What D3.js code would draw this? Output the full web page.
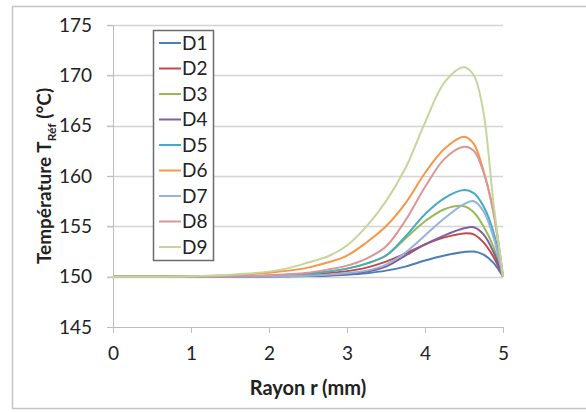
<!DOCTYPE html>
<html>
<head>
<meta charset="utf-8">
<script src="https://cdn.jsdelivr.net/npm/d3@7"></script>
<style>
  html, body { margin: 0; padding: 0; background: #fff; }
  svg { display: block; font-family: Lato, 'Open Sans', sans-serif; }
</style>
</head>
<body>
<svg id="chart"></svg>
<script>
// rayon r (mm)
const radius = [0, 0.5, 1, 1.5, 2, 2.25, 2.5, 2.75, 3, 3.25, 3.5, 3.75, 4, 4.25, 4.5, 4.625, 4.75, 4.875, 5];

const d1 = [150, 150, 150, 150.01, 150.02, 150.04, 150.06, 150.1, 150.2, 150.35, 150.6, 151.0, 151.6, 152.1, 152.45, 152.5, 152.2, 151.4, 150];
const d2 = [150, 150, 150.01, 150.03, 150.07, 150.12, 150.2, 150.35, 150.55, 150.9, 151.5, 152.3, 153.2, 153.9, 154.3, 154.2, 153.4, 152.0, 150];
const d3v = [150, 150, 150.01, 150.03, 150.1, 150.18, 150.3, 150.5, 150.8, 151.3, 152.1, 153.8, 155.5, 156.7, 157.0, 156.4, 155.0, 153.0, 150];
const d4 = [150, 150, 150, 150.01, 150.03, 150.05, 150.08, 150.15, 150.3, 150.5, 151.0, 152.1, 153.2, 154.1, 154.8, 154.9, 154.2, 152.5, 150];
const d5 = [150, 150, 150.01, 150.03, 150.1, 150.18, 150.3, 150.5, 150.8, 151.3, 152.1, 154.0, 156.2, 157.8, 158.6, 158.3, 157.0, 154.5, 150];
const d6 = [150, 150, 150.03, 150.15, 150.4, 150.6, 150.9, 151.4, 152.1, 153.4, 155.0, 157.3, 160.3, 162.7, 163.9, 163.2, 160.5, 156.5, 150];
const d7 = [150, 150, 150, 150.01, 150.03, 150.06, 150.1, 150.2, 150.35, 150.6, 151.2, 152.4, 154.1, 155.8, 157.2, 157.5, 156.5, 154.0, 150];
const d8 = [150, 150, 150.01, 150.05, 150.15, 150.25, 150.4, 150.7, 151.1, 151.8, 153.0, 155.6, 158.9, 161.7, 162.9, 162.5, 160.4, 156.5, 150];
const d9 = [150, 150, 150.05, 150.2, 150.5, 150.85, 151.4, 152.0, 153.1, 155.0, 157.5, 160.8, 165.3, 169.3, 170.8, 170.0, 166.3, 157.5, 150];

const seriesNames = ['D1', 'D2', 'D3', 'D4', 'D5', 'D6', 'D7', 'D8', 'D9'];
const seriesValues = [d1, d2, d3v, d4, d5, d6, d7, d8, d9];
const colors = ['#4A7EBB', '#BE4B48', '#98B954', '#7D60A0', '#46AAC5', '#F79646', '#95B3D7', '#D99694', '#C3D69B'];

const xTicks = [0, 1, 2, 3, 4, 5];
const yTicks = [145, 150, 155, 160, 165, 170, 175];

const width = 586;
const height = 412;
const margin = { top: 25, right: 83, bottom: 85, left: 113 };

const svg = d3.select('#chart')
  .attr('width', width)
  .attr('height', height);

// outer chart border
svg.append('rect')
  .attr('x', 12.5).attr('y', 6.5)
  .attr('width', 600).attr('height', 402)
  .attr('fill', 'none')
  .attr('stroke', '#c4c4c4')
  .attr('stroke-width', 1.5);

const x = d3.scaleLinear().domain([0, 5]).range([margin.left, width - margin.right]);
const y = d3.scaleLinear().domain([145, 175]).range([height - margin.bottom, margin.top]);

// gridlines
svg.append('g')
  .selectAll('line')
  .data(yTicks.filter((t) => t !== 145))
  .join('line')
  .attr('x1', x(0) - 6).attr('x2', x(5))
  .attr('y1', (d) => Math.round(y(d)) + 0.5)
  .attr('y2', (d) => Math.round(y(d)) + 0.5)
  .attr('stroke', '#d4d4d4')
  .attr('stroke-width', 1.5);

// y axis
const yAxis = svg.append('g')
  .attr('transform', `translate(${x(0)},0)`)
  .call(d3.axisLeft(y).tickValues(yTicks).tickSize(6).tickPadding(15));
yAxis.select('.domain').attr('stroke', '#bdbdbd');
yAxis.selectAll('.tick line').attr('stroke', '#bdbdbd');
yAxis.selectAll('.tick text')
  .attr('fill', '#222')
  .style('font-size', '19px')
  .style('font-family', 'Lato, sans-serif');

// x axis
const xAxis = svg.append('g')
  .attr('transform', `translate(0,${y(145)})`)
  .call(d3.axisBottom(x).tickValues(xTicks).tickFormat(d3.format('d')).tickSize(6).tickPadding(14));
xAxis.select('.domain').attr('stroke', '#bdbdbd');
xAxis.selectAll('.tick line').attr('stroke', '#bdbdbd');
xAxis.selectAll('.tick text')
  .attr('fill', '#222')
  .style('font-size', '19px')
  .style('font-family', 'Lato, sans-serif');

// lines
const line = d3.line()
  .x((d) => x(d[0]))
  .y((d) => y(d[1]))
  .curve(d3.curveCatmullRom.alpha(0.5));

svg.append('g')
  .selectAll('path')
  .data(seriesValues)
  .join('path')
  .attr('d', (vals) => line(vals.map((v, i) => [radius[i], v])))
  .attr('fill', 'none')
  .attr('stroke', (d, i) => colors[i])
  .attr('stroke-width', 2);

// legend
const legend = svg.append('g').attr('transform', 'translate(153,30)');
legend.append('rect')
  .attr('x', 0.5).attr('y', 0.5)
  .attr('width', 60).attr('height', 230)
  .attr('fill', '#fff')
  .attr('stroke', '#6b6b6b')
  .attr('stroke-width', 1.5);

const item = legend.selectAll('g.item')
  .data(seriesNames)
  .join('g')
  .attr('class', 'item')
  .attr('transform', (d, i) => `translate(0,${13 + i * 25.5})`);
item.append('line')
  .attr('x1', 6).attr('x2', 28)
  .attr('stroke', (d, i) => colors[i])
  .attr('stroke-width', 2);
item.append('text')
  .attr('x', 29)
  .attr('dy', '0.35em')
  .attr('fill', '#222')
  .style('font-size', '19px')
  .text((d) => d);

// axis titles
svg.append('text')
  .attr('x', 308).attr('y', 395)
  .attr('text-anchor', 'middle')
  .attr('fill', '#222')
  .style('font-weight', 'bold')
  .style('font-size', '20px')
  .text('Rayon r (mm)');

const yTitle = svg.append('text')
  .attr('transform', 'translate(51,176) rotate(-90)')
  .attr('text-anchor', 'middle')
  .attr('fill', '#222')
  .style('font-weight', 'bold')
  .style('font-size', '19px');
yTitle.append('tspan').text('Température T');
yTitle.append('tspan').attr('dy', 5).style('font-size', '12px').text('Réf');
yTitle.append('tspan').attr('dy', -5).text(' (°C)');
</script>
</body>
</html>
